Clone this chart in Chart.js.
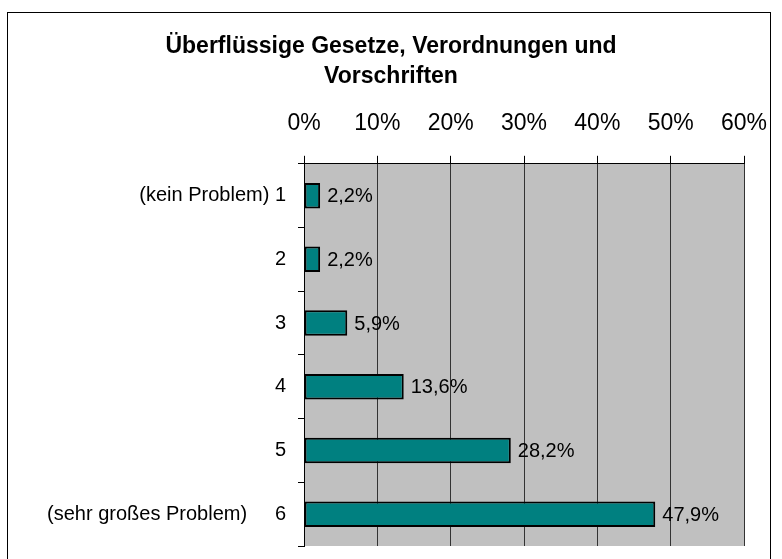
<!DOCTYPE html>
<html>
<head>
<meta charset="utf-8">
<script src="https://cdn.jsdelivr.net/npm/chart.js@4.4.0/dist/chart.umd.min.js"></script>
<style>
    body { margin: 0; background: #fff; }
    #wrap { width: 782px; height: 559px; }
</style>
</head>
<body>
<div id="wrap"><canvas id="grafico" width="782" height="559"></canvas></div>
<script>
// dados do gráfico
const titulo = ['Überflüssige Gesetze, Verordnungen und', 'Vorschriften'];
const categorias = ['(kein Problem) 1', '2', '3', '4', '5', '(sehr großes Problem)     6'];
const valores = [2.2, 2.2, 5.9, 13.6, 28.2, 47.9];
const eixoMax = 60;
const eixoPasso = 10;

const fonte = "'Liberation Sans', Arial, sans-serif";

// fundo branco, moldura e área cinza do gráfico
const fundoPlugin = {
    id: 'fundo',
    beforeDraw(chart) {
        const ctx = chart.ctx;
        const a = chart.chartArea;
        ctx.save();
        ctx.fillStyle = '#ffffff';
        ctx.fillRect(0, 0, chart.width, chart.height);
        ctx.strokeStyle = '#000000';
        ctx.lineWidth = 1;
        ctx.strokeRect(7.5, 12.5, 763, 560);
        ctx.fillStyle = '#c0c0c0';
        ctx.fillRect(a.left, a.top, a.right - a.left, a.bottom - a.top);
        ctx.restore();
    }
};

// rótulos de valor à direita das barras
const rotulosPlugin = {
    id: 'rotulos',
    afterDatasetsDraw(chart) {
        const ctx = chart.ctx;
        const meta = chart.getDatasetMeta(0);
        ctx.save();
        ctx.font = '20px ' + fonte;
        ctx.fillStyle = '#000000';
        ctx.textAlign = 'left';
        ctx.textBaseline = 'middle';
        meta.data.forEach((bar, i) => {
            const txt = valores[i].toFixed(1).replace('.', ',') + '%';
            ctx.fillText(txt, bar.x + 7, bar.y + 1);
        });
        ctx.restore();
    }
};

new Chart(document.getElementById('grafico'), {
    type: 'bar',
    data: {
        labels: categorias,
        datasets: [{
            data: valores,
            backgroundColor: '#008080',
            borderColor: '#000000',
            borderWidth: 2,
            borderSkipped: false,
            barPercentage: 0.4,
            categoryPercentage: 1
        }]
    },
    options: {
        indexAxis: 'y',
        responsive: false,
        animation: false,
        layout: { padding: 0 },
        plugins: {
            legend: { display: false },
            tooltip: { enabled: false },
            title: {
                display: true,
                text: titulo,
                color: '#000000',
                font: { family: fonte, size: 23, weight: 'bold', lineHeight: 1.3 },
                padding: { top: 32, bottom: 0 }
            }
        },
        scales: {
            x: {
                position: 'top',
                min: 0,
                max: eixoMax,
                ticks: {
                    stepSize: eixoPasso,
                    color: '#000000',
                    padding: 18,
                    maxRotation: 0,
                    font: { family: fonte, size: 23 },
                    callback: v => v + '%'
                },
                grid: { color: '#333333', lineWidth: 1, tickLength: 8, tickColor: '#000000' },
                border: { display: true, color: '#000000', width: 1 },
                afterFit(scale) {
                    scale.height = 72;
                    scale.paddingLeft = 0;
                    scale.paddingRight = 38;
                }
            },
            y: {
                ticks: {
                    color: '#000000',
                    padding: 12,
                    font: { family: fonte, size: 20 }
                },
                grid: { offset: true, drawOnChartArea: false, tickLength: 6, color: '#000000' },
                border: { display: true, color: '#000000', width: 1 },
                afterFit(scale) {
                    scale.width = 304;
                    scale.paddingTop = 0;
                    scale.paddingBottom = 13;
                }
            }
        }
    },
    plugins: [fundoPlugin, rotulosPlugin]
});
</script>
</body>
</html>
